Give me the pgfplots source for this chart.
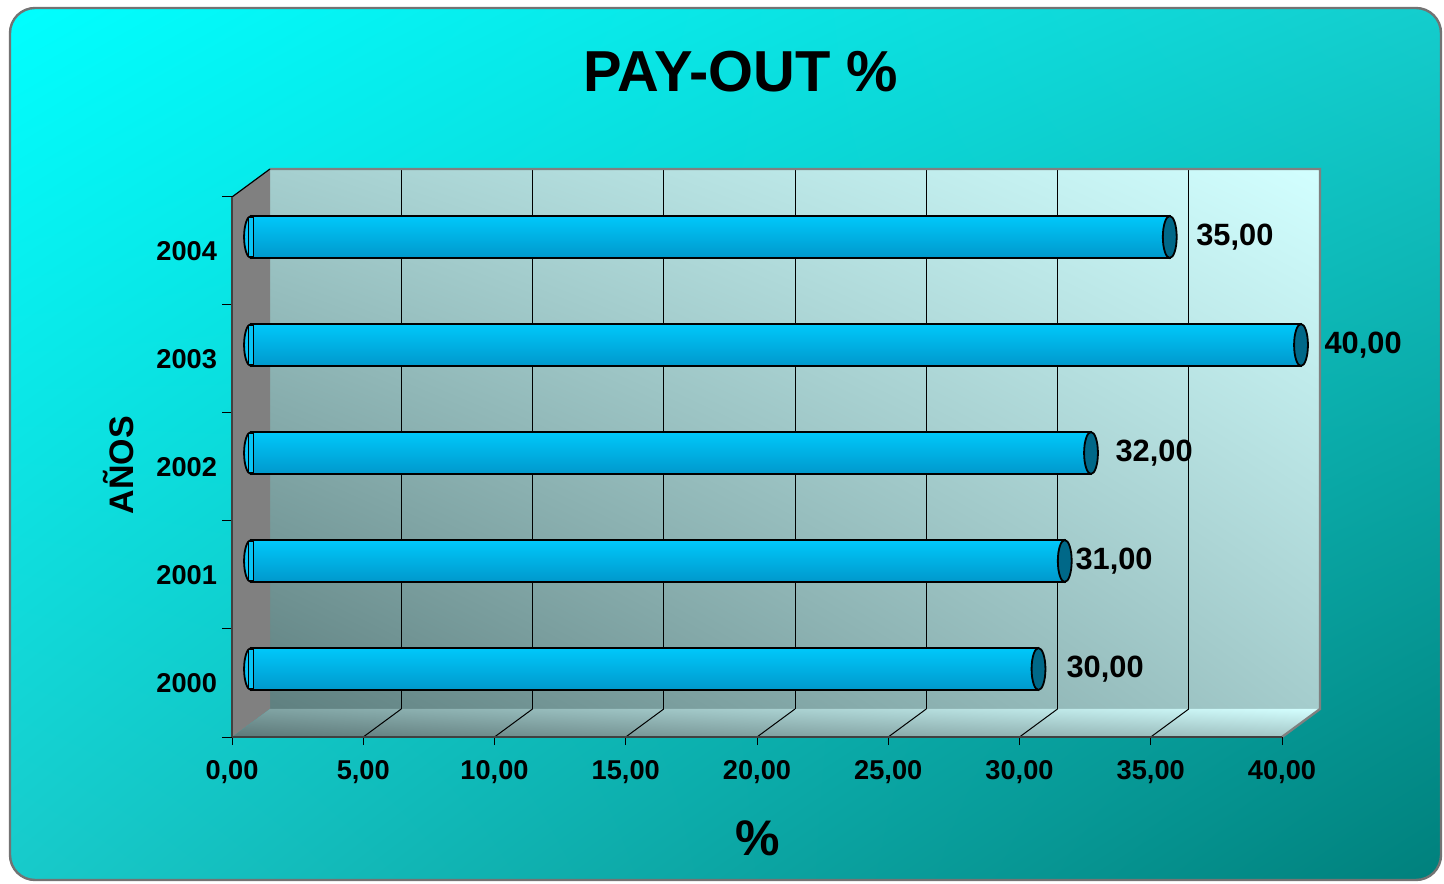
\documentclass[border=0pt]{standalone}
\usepackage{pgfplots}
\pgfplotsset{compat=1.18}
\usetikzlibrary{shadings}
\usepackage{fontspec}
\setmainfont{Liberation Sans}
\definecolor{bgUL}{RGB}{0,255,255}
\definecolor{bgUR}{RGB}{20,205,205}
\definecolor{bgLL}{RGB}{24,202,202}
\definecolor{bgLR}{RGB}{0,128,124}
\definecolor{wUL}{RGB}{165,207,207}
\definecolor{wUR}{RGB}{210,255,255}
\definecolor{wLL}{RGB}{95,128,128}
\definecolor{wLR}{RGB}{165,205,205}
\definecolor{fUL}{RGB}{125,160,160}
\definecolor{fUR}{RGB}{212,255,255}
\definecolor{fLL}{RGB}{92,120,120}
\definecolor{fLR}{RGB}{165,200,200}
\definecolor{barTop}{RGB}{0,200,250}
\definecolor{barMid}{RGB}{16,210,255}
\definecolor{barBot}{RGB}{0,152,204}
\definecolor{barFlat}{RGB}{8,196,245}
\definecolor{capDark}{RGB}{0,104,136}
\pgfplotsset{
  mybar/.style={xbar, bar shift=0pt, bar width=21pt, xshift=9.5pt, yshift=7pt,
    draw=black, line width=0.9pt,
    top color=barTop, middle color=barMid, bottom color=barBot,
    point meta=x, nodes near coords,
    every node near coord/.append style={anchor=west, font=\fontsize{15.4}{18}\selectfont\bfseries, black, xshift=#1}},
  capstyle/.style={only marks, mark=*, mark size=10.5pt, xshift=9.5pt, yshift=7pt,
    mark options={xscale=0.33, fill=#1, draw=black, line width=0.9pt}},
}
\begin{document}
\begin{tikzpicture}
\useasboundingbox (0,0) rectangle (722pt,441.5pt);
\shade[rounded corners=12.5pt, upper left=bgUL, upper right=bgUR, lower left=bgLL, lower right=bgLR] (5pt,1.5pt) rectangle (720.5pt,437.5pt);
\draw[black!55, line width=1.2pt, rounded corners=12.5pt] (5pt,1.5pt) rectangle (720.5pt,437.5pt);
\node[anchor=base, font=\fontsize{28.9}{31}\selectfont\bfseries] at (370.5pt,395.5pt) {PAY-OUT \%};
\node[anchor=base, font=\fontsize{25}{28}\selectfont\bfseries] at (379pt,14pt) {\%};
\node[rotate=90, anchor=base, font=\fontsize{17}{20}\selectfont\bfseries] at (66.5pt,209pt) {AÑOS};
\begin{axis}[
  at={(116pt,73pt)}, anchor=south west,
  scale only axis, width=525pt, height=270pt,
  xmin=0, xmax=40, ymin=-0.5, ymax=4.5,
  clip=false, clip marker paths=true, axis on top=true,
  axis x line*=bottom, axis y line*=left,
  axis line style={draw=black!75, line width=0.7pt},
  xtick={0,5,...,40},
  ytick={0,1,2,3,4}, yticklabels={2000,2001,2002,2003,2004},
  minor ytick={-0.5,0.5,1.5,2.5,3.5,4.5},
  tick align=outside,
  major tick length=4pt, minor tick length=5pt,
  major y tick style={draw=none},
  tick style={black, line width=0.5pt},
  /pgf/number format/.cd, fixed, fixed zerofill, precision=2, use comma, assume math mode=true,
  /pgfplots/.cd,
  ticklabel style={font=\fontsize{13.6}{16}\selectfont\bfseries},
  xticklabel style={yshift=-4pt},
]
% back wall
\shade[upper left=wUL, upper right=wUR, lower left=wLL, lower right=wLR] (axis cs:1.4476,-0.2407) rectangle (axis cs:41.4476,4.7593);
% side wall
\fill[black!50] (axis cs:0,-0.5) -- (axis cs:1.4476,-0.2407) -- (axis cs:1.4476,4.7593) -- (axis cs:0,4.5) -- cycle;
% floor
\shade[upper left=fUL, upper right=fUR, lower left=fLL, lower right=fLR] (axis cs:0,-0.5) -- (axis cs:40,-0.5) -- (axis cs:41.4476,-0.2407) -- (axis cs:1.4476,-0.2407) -- cycle;
% grid on back wall
\draw[black, line width=0.5pt]
  (axis cs:6.4476,-0.2407) -- (axis cs:6.4476,4.7593)
  (axis cs:11.4476,-0.2407) -- (axis cs:11.4476,4.7593)
  (axis cs:16.4476,-0.2407) -- (axis cs:16.4476,4.7593)
  (axis cs:21.4476,-0.2407) -- (axis cs:21.4476,4.7593)
  (axis cs:26.4476,-0.2407) -- (axis cs:26.4476,4.7593)
  (axis cs:31.4476,-0.2407) -- (axis cs:31.4476,4.7593)
  (axis cs:36.4476,-0.2407) -- (axis cs:36.4476,4.7593);
% floor lines
\draw[black, line width=0.5pt]
  (axis cs:5,-0.5) -- (axis cs:6.4476,-0.2407)
  (axis cs:10,-0.5) -- (axis cs:11.4476,-0.2407)
  (axis cs:15,-0.5) -- (axis cs:16.4476,-0.2407)
  (axis cs:20,-0.5) -- (axis cs:21.4476,-0.2407)
  (axis cs:25,-0.5) -- (axis cs:26.4476,-0.2407)
  (axis cs:30,-0.5) -- (axis cs:31.4476,-0.2407)
  (axis cs:35,-0.5) -- (axis cs:36.4476,-0.2407);
% wall borders
\draw[black!50, line width=1.2pt] (axis cs:1.4476,4.7593) -- (axis cs:41.4476,4.7593) -- (axis cs:41.4476,-0.2407) -- (axis cs:40,-0.5);
\draw[black, line width=0.6pt] (axis cs:0,4.5) -- (axis cs:1.4476,4.7593);
% left caps
\addplot[capstyle=barFlat] coordinates {(0,0) (0,1) (0,2) (0,3) (0,4)};
% bars, one per year
\addplot[mybar=10.25pt] coordinates {(30,0)};
\addplot[mybar=1.6pt] coordinates {(31,1)};
\addplot[mybar=8.5pt] coordinates {(32,2)};
\addplot[mybar=8pt] coordinates {(40,3)};
\addplot[mybar=9.5pt] coordinates {(35,4)};
% cover the bars' left edges inside the rounded ends
\addplot[only marks, mark=square*, mark size=9.9pt, xshift=9.5pt, yshift=7pt, mark options={xscale=0.12, fill=barFlat, draw=none}]
  coordinates {(0,0) (0,1) (0,2) (0,3) (0,4)};
% right caps
\addplot[capstyle=capDark] coordinates {(30,0) (31,1) (32,2) (40,3) (35,4)};
\end{axis}
\end{tikzpicture}
\end{document}
